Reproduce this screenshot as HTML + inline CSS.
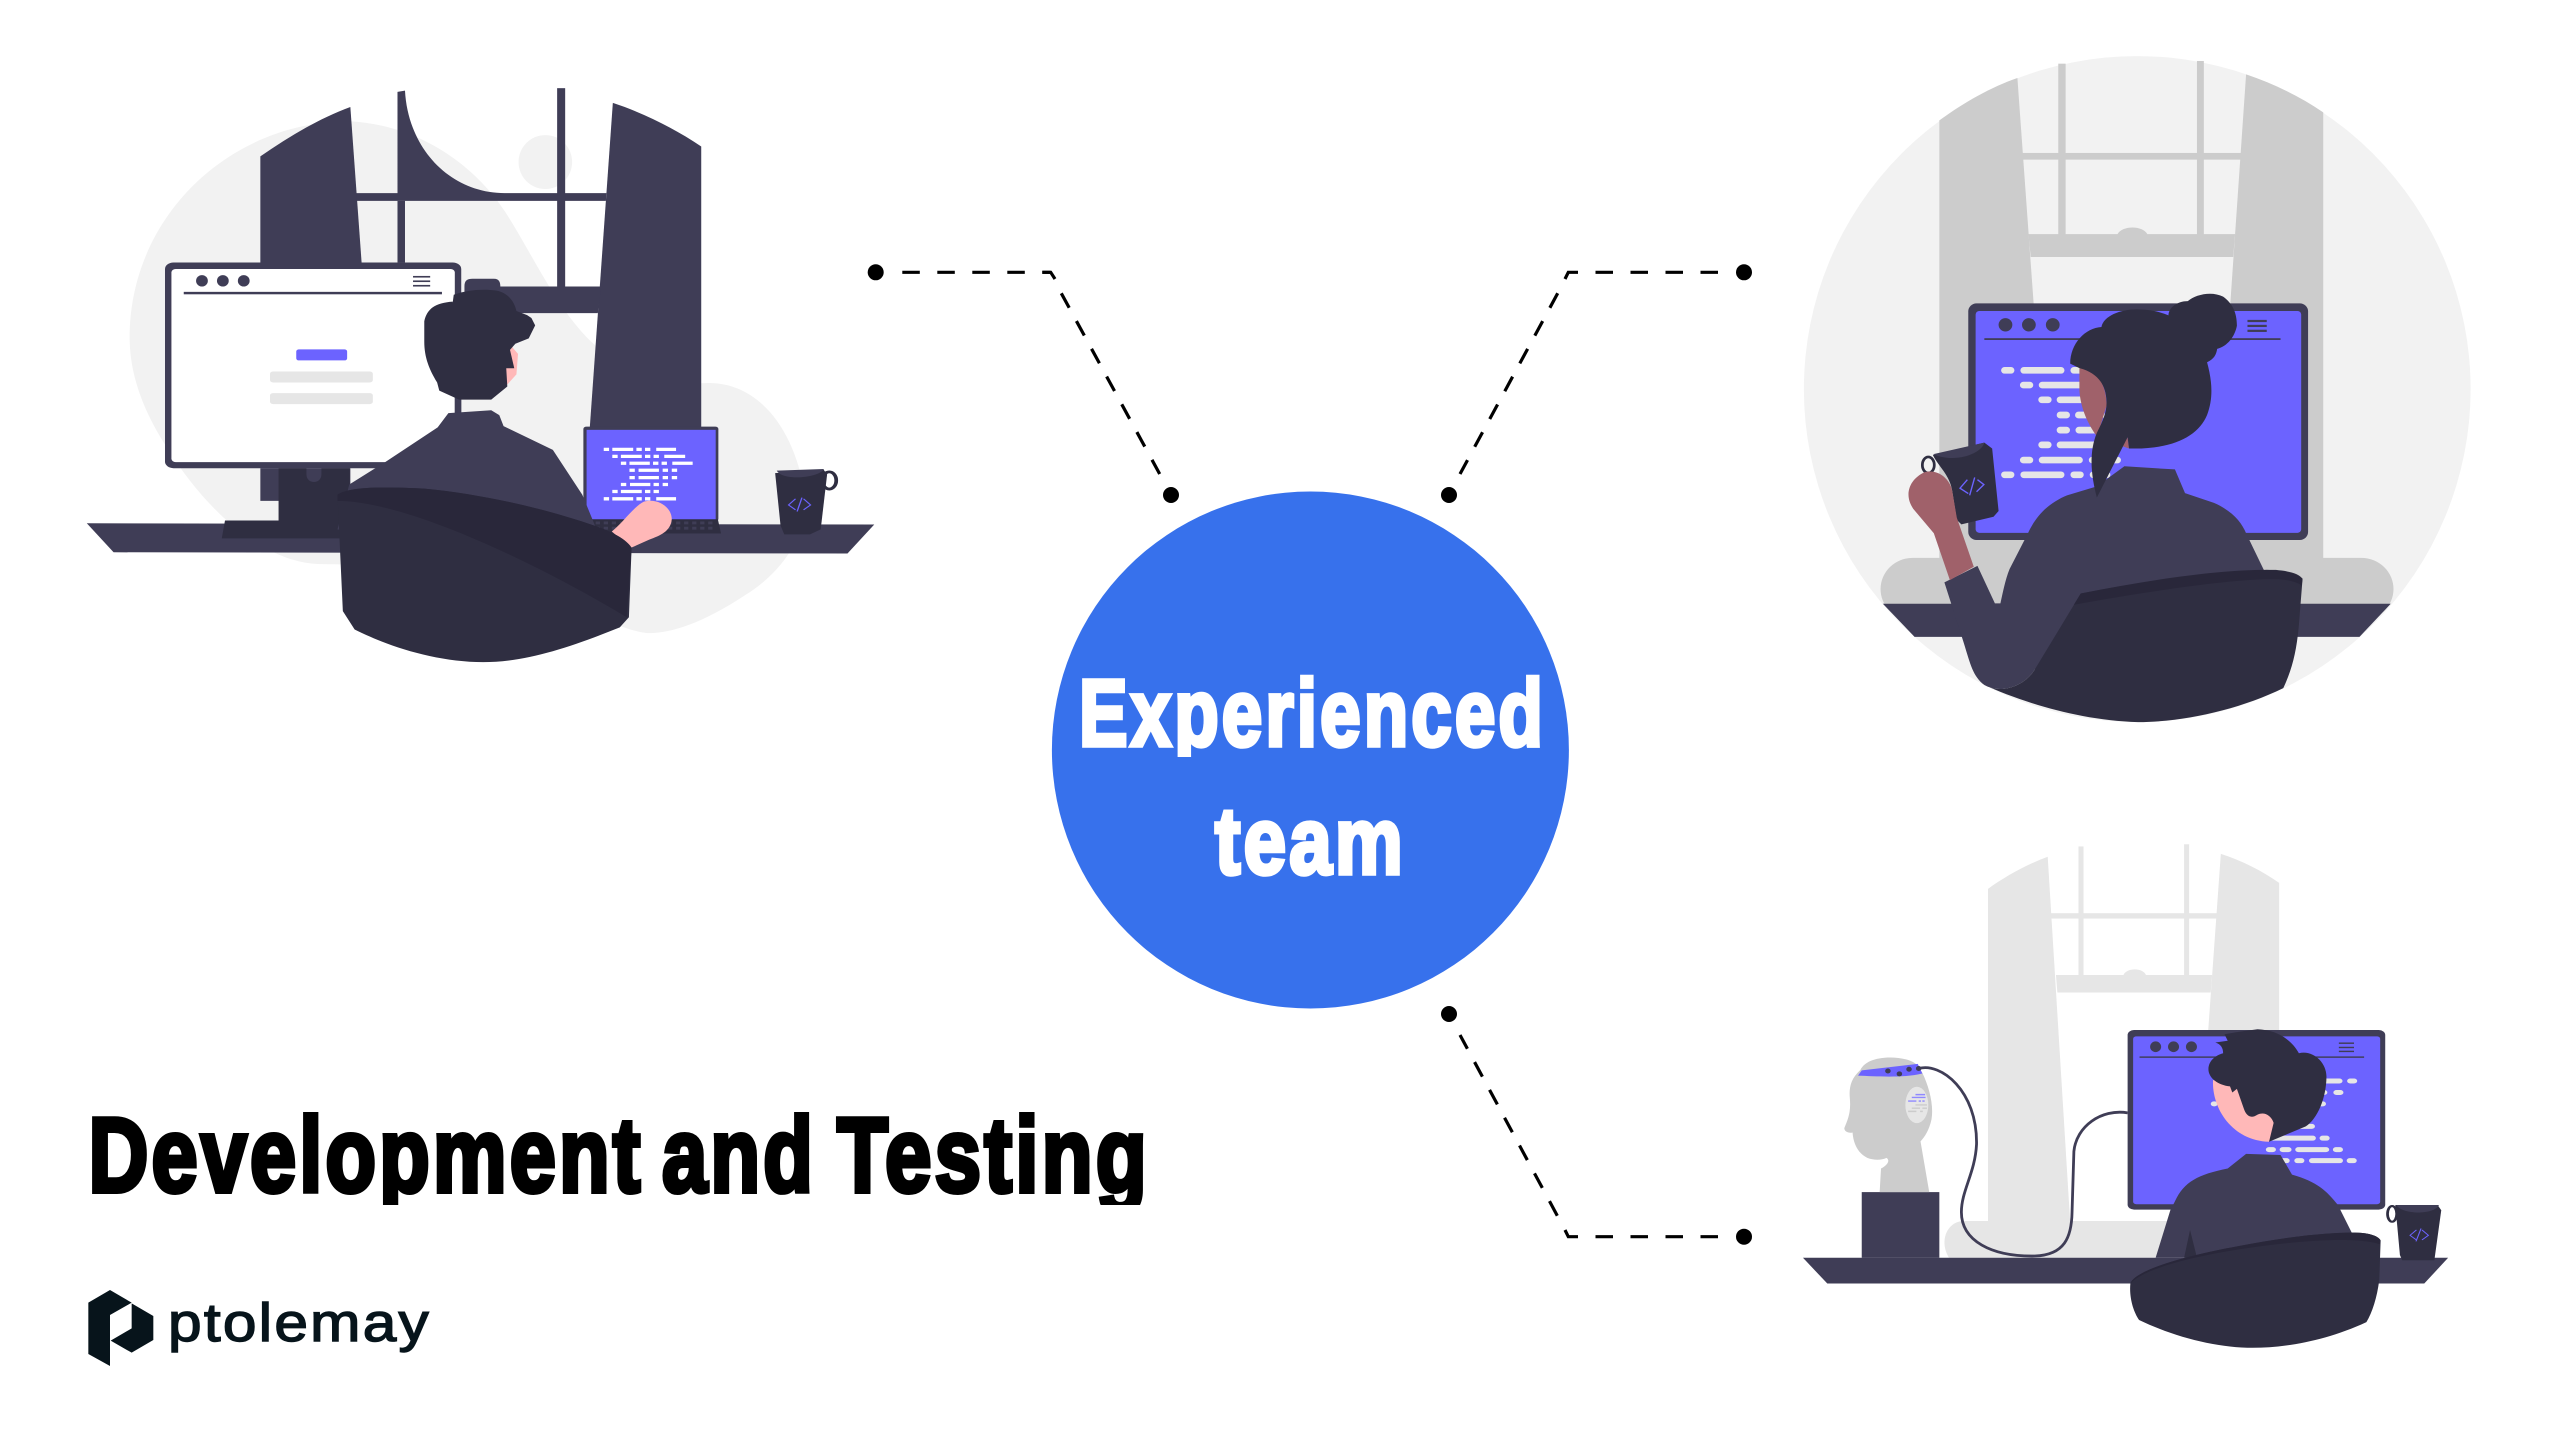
<!DOCTYPE html>
<html lang="en">
<head>
<meta charset="utf-8">
<title>Development and Testing</title>
<style>
html,body{margin:0;padding:0;background:#fff;width:2560px;height:1440px;overflow:hidden}
svg{display:block}
text{font-family:"Liberation Sans",sans-serif}
.imp{font-weight:700;letter-spacing:4px}
.logo{letter-spacing:2px}
</style>
</head>
<body>
<svg xmlns="http://www.w3.org/2000/svg" width="2560" height="1440" viewBox="0 0 2560 1440">
<defs>
  <clipPath id="c1"><rect x="0" y="1080" width="1300" height="125"/></clipPath>
  <clipPath id="c2"><rect x="1060" y="660" width="510" height="97"/></clipPath>
</defs>
<rect width="2560" height="1440" fill="#fff"/>

<!-- Illustration 1 -->
<g transform="translate(60,60) scale(.5357,.4082)">
  <path fill="#f2f2f2" d="M130,680C130,380 320,150 540,150C680,160 780,270 830,370C880,470 930,620 1000,700L1197,792C1300,780 1370,900 1390,1060C1400,1180 1330,1270 1280,1310C1200,1380 1140,1404 1100,1404C1050,1404 900,1300 800,1240L490,1235C380,1235 270,1100 200,950C150,850 130,760 130,680Z"/>
  <ellipse cx="906" cy="250" rx="50" ry="66" fill="#f2f2f2"/>
  <g fill="#3f3d56">
    <path d="M374,236C425,190 480,145 542,115L563,496L374,496Z"/>
    <path d="M1032,105C1090,130 1150,170 1197,212L1197,900L989,900Z"/>
    <path d="M630,78L644,75C650,220 730,326 830,326L1020,326L1019,345L553,345L553,326L630,326Z"/>
    <rect x="630" y="345" width="14" height="151"/>
    <rect x="928" y="69" width="15" height="490"/>
    <path d="M755,555C755,540 760,536 770,536L810,536C820,536 822,545 822,555L1010,555L1004,620L860,620L755,600Z"/>
    <rect x="374" y="1000" width="168" height="80"/>
    <path d="M50,1135L1520,1138L1470,1209L100,1206Z"/>
  </g>
  <rect x="196" y="496" width="553" height="504" rx="16" fill="#3f3d56"/>
  <rect x="208" y="512" width="529" height="473" rx="8" fill="#fff"/>
  <g fill="#3f3d56">
    <ellipse cx="265" cy="541" rx="11" ry="14"/><ellipse cx="304" cy="541" rx="11" ry="14"/><ellipse cx="343" cy="541" rx="11" ry="14"/>
    <rect x="231" y="568" width="482" height="6"/>
    <rect x="659" y="529" width="32" height="4"/><rect x="659" y="540" width="32" height="4"/><rect x="659" y="551" width="32" height="4"/>
  </g>
  <rect x="441" y="709" width="95" height="27" rx="5" fill="#6c63ff"/>
  <rect x="392" y="763" width="192" height="27" rx="6" fill="#e6e6e6"/>
  <rect x="392" y="816" width="192" height="27" rx="6" fill="#e6e6e6"/>
  <path fill="#2f2e41" d="M408,1000L460,1000L460,1015C460,1040 488,1040 488,1015L488,1000L541,1000L541,1128L540,1172L302,1172L308,1128L408,1128Z"/>
  <!-- laptop -->
  <rect x="977" y="898" width="252" height="232" rx="6" fill="#3f3d56"/>
  <rect x="983" y="906" width="241" height="220" fill="#6c63ff"/>
  <path d="M990,1125L1228,1125L1234,1160L985,1160Z" fill="#2f2e41"/>
  <path stroke="#3f3d56" stroke-width="7" stroke-dasharray="8 7" fill="none" d="M1000,1134H1225M1000,1147H1225"/>
  <path stroke="#fff" stroke-width="8" fill="none" d="M1015,954h10m6,0h39m6,0h10m6,0h10m11,0h37M1031,971h10m6,0h39m6,0h10m6,0h10m10,0h39M1047,988h10m6,0h38m6,0h10m6,0h10m10,0h38M1063,1005h10m7,0h38m7,0h10m7,0h10M1063,1023h10m7,0h38m7,0h10m7,0h10M1047,1040h10m7,0h38m6,0h10m7,0h10M1031,1057h10m6,0h39m6,0h10m6,0h10M1015,1075h10m6,0h39m6,0h10m6,0h10m11,0h37"/>
  <!-- mug -->
  <ellipse cx="1436" cy="1030" rx="13" ry="21" fill="none" stroke="#2f2e41" stroke-width="7"/>
  <path d="M1335,1012L1425,1003L1432,1015L1420,1150L1400,1162L1352,1162L1345,1140Z" fill="#2f2e41"/>
  <path d="M1338,1006L1426,1002C1420,1022 1350,1034 1338,1006Z" fill="#3f3d56"/>
  <path d="M1373,1075L1360,1090L1373,1102M1388,1075L1401,1090L1388,1102M1385,1072L1376,1106" fill="none" stroke="#6c63ff" stroke-width="2.5"/>
  <!-- person -->
  <rect x="737" y="825" width="12" height="40" fill="#3f3d56"/>
  <path fill="#3f3d56" d="M725,865L805,858L820,870L828,897L920,955L975,1065L1000,1145L1000,1250L518,1150L540,1040L607,985L705,900Z"/>
  <path fill="#ffb8b8" d="M842,700L855,720L852,770L835,795L825,760Z"/>
  <path fill="#2f2e41" d="M733,595L735,575C760,563 790,560 815,565C835,570 848,590 852,615L872,625L880,632L887,650L875,682L850,695L840,710L848,755L833,755L835,800L805,832L745,832L708,810L704,790C690,760 680,730 680,690L680,640C685,610 700,595 733,592Z"/>
  <path fill="#ffb8b8" d="M1030,1155C1050,1135 1070,1095 1090,1082C1115,1072 1142,1095 1142,1125C1140,1155 1120,1165 1100,1175L1066,1195Z"/>
  <!-- chair -->
  <path fill="#2f2e41" d="M518,1065C540,1045 600,1045 680,1050C800,1065 920,1105 1000,1142C1040,1160 1060,1180 1067,1195L1062,1365L1045,1390C950,1440 870,1475 790,1475C700,1475 610,1435 550,1395L528,1350Z"/>
  <path fill="#29273a" d="M518,1080C650,1080 900,1240 1058,1365L1067,1195C1060,1180 1040,1160 1000,1142C920,1105 800,1065 680,1050C600,1045 540,1045 518,1065Z"/>
</g>

<!-- Illustration 2 -->
<g transform="translate(1780,40) scale(.4592,.4464)">
  <ellipse cx="778" cy="782" rx="726" ry="746" fill="#f2f2f2"/>
  <g fill="#ccc">
    <path d="M347,180C400,140 460,105 517,85L553,600L553,1170L347,1170Z"/>
    <path d="M1015,77C1075,98 1130,125 1183,162L1183,1170L975,1170L980,600Z"/>
    <rect x="606" y="53" width="16" height="385"/>
    <rect x="908" y="47" width="15" height="391"/>
    <rect x="528" y="253" width="476" height="15"/>
    <path d="M541,435L735,435C745,415 790,415 800,435L991,435L987,486L546,486Z"/>
    <rect x="219" y="1160" width="1117" height="140" rx="70"/>
    <rect x="500" y="1100" width="600" height="170"/>
  </g>
  <path d="M224,1263L1330,1263L1262,1337L293,1337Z" fill="#3f3d56"/>
  <rect x="410" y="590" width="740" height="530" rx="18" fill="#3f3d56"/>
  <rect x="426" y="607" width="709" height="497" rx="8" fill="#6c63ff"/>
  <g fill="#3f3d56">
    <circle cx="491" cy="638" r="15"/><circle cx="542" cy="638" r="15"/><circle cx="594" cy="638" r="15"/>
    <rect x="445" y="668" width="645" height="4"/>
    <rect x="1018" y="627" width="42" height="5"/><rect x="1018" y="638" width="42" height="5"/><rect x="1018" y="649" width="42" height="5"/>
  </g>
  <path stroke="#e6e6e6" stroke-width="15" stroke-linecap="round" fill="none" d="M489,740h14m28,0h81m28,0h14M530,773h14m27,0h81M570,806h14m26,0h81M610,840h14m26,0h50M610,874h14m27,0h50M570,907h14m26,0h80M530,941h14m27,0h81m28,0h55M489,974h14m28,0h81m28,0h14m28,0h30"/>
  <!-- person -->
  <path fill="#a0616a" d="M652,735C700,735 712,790 711,820L690,890L760,915L757,890L700,900C665,860 652,810 652,780Z"/>
  <path fill="#3f3d56" d="M750,955L860,962L882,1015L945,1037C985,1055 1005,1080 1015,1105L1055,1190L1060,1400L555,1410C530,1450 480,1465 445,1445C420,1425 415,1400 400,1350L358,1215L430,1178L468,1262L480,1262C485,1240 490,1210 500,1185L540,1105C560,1060 590,1035 625,1020L690,1000Z"/>
  <path fill="#2f2e41" d="M632,725C632,680 665,645 700,643C705,615 750,600 790,604C815,605 835,612 846,617C846,600 865,585 888,585C905,570 940,562 965,575C985,590 995,610 995,640C990,665 975,685 952,692C950,705 945,715 930,722C940,760 945,800 930,840C910,890 850,918 760,915L757,890L690,1025C680,985 670,930 690,880C705,850 712,830 711,810C710,770 690,745 652,735Z"/>
  <ellipse cx="323" cy="952" rx="13" ry="18" fill="none" stroke="#2f2e41" stroke-width="6"/>
  <path fill="#2f2e41" d="M333,930L445,902L462,915L476,1055L465,1068L395,1085L385,1075L375,1010C370,975 345,955 333,930Z"/>
  <path fill="#3f3d56" d="M333,928L445,902C440,925 385,950 333,928Z"/>
  <path d="M408,985L392,1004L410,1016M430,985L444,996L428,1012M424,980L413,1020" fill="none" stroke="#6c63ff" stroke-width="3"/>
  <path fill="#a0616a" d="M370,1210L335,1105L290,1050C270,1020 280,985 315,968C350,960 372,990 375,1010L385,1070L422,1180Z"/>
  <path fill="#2f2e41" d="M655,1240C800,1210 1000,1185 1080,1187C1110,1190 1130,1195 1138,1207L1130,1310C1125,1370 1115,1410 1096,1452C1000,1500 880,1528 780,1528C650,1525 520,1480 445,1445C480,1465 530,1450 555,1410Z"/>
  <path fill="#29273a" d="M640,1265C800,1235 1000,1205 1080,1208C1100,1208 1125,1213 1136,1222L1138,1207C1125,1195 1100,1188 1060,1187C950,1187 800,1210 655,1240Z"/>
</g>

<!-- Illustration 3 -->
<g transform="translate(1780,830) scale(.4592,.3571)">
  <g fill="#e6e6e6">
    <path d="M453,165C490,130 540,95 583,75L632,1100L453,1100Z"/>
    <path d="M960,67C1005,85 1050,115 1087,148L1087,570L932,570Z"/>
    <rect x="650" y="46" width="11" height="362"/>
    <rect x="880" y="40" width="11" height="368"/>
    <rect x="590" y="233" width="362" height="15"/>
    <path d="M601,406L748,406C755,385 790,385 797,406L941,406L938,455L604,455Z"/>
    <path d="M400,1095L860,1095L860,1198L368,1198C345,1150 365,1095 400,1095Z"/>
  </g>
  <path d="M50,1198L1455,1198L1403,1270L103,1270Z" fill="#3f3d56"/>
  <rect x="178" y="1014" width="169" height="184" fill="#3f3d56"/>
  <!-- bust -->
  <path fill="#ccc" d="M175,672C185,645 215,637 240,637C265,637 290,645 300,660L310,680C325,720 335,770 330,810C325,840 315,860 306,872L325,1014L217,1014L220,948C235,938 240,925 232,918C220,925 205,925 190,918C170,905 160,880 158,847C150,850 140,845 140,835C148,810 155,790 152,750C150,720 155,695 175,672Z"/>
  <path fill="#6c63ff" d="M170,688L178,673L300,655L310,682C270,695 210,690 170,688Z"/>
  <g fill="#3f3d56"><ellipse cx="235" cy="675" rx="6" ry="7"/><ellipse cx="260" cy="683" rx="6" ry="7"/><ellipse cx="281" cy="670" rx="6" ry="7"/><ellipse cx="302" cy="668" rx="6" ry="7"/></g>
  <ellipse cx="298" cy="770" rx="25" ry="51" fill="#e6e6e6"/>
  <path d="M295,741h21M287,749h30M279,759h18m5,0h5m3,0h5" stroke="#8f89ff" stroke-width="4" fill="none"/>
  <path d="M295,770h25M287,779h18m5,0h10M279,788h18m8,0h6" stroke="#ccc" stroke-width="4" fill="none"/>
  <path d="M302,668C350,650 430,730 428,880C425,960 395,1010 395,1070C395,1150 460,1195 555,1193C620,1190 635,1140 636,1070L640,900C645,830 700,780 757,792" fill="none" stroke="#3f3d56" stroke-width="2.8" vector-effect="non-scaling-stroke"/>
  <!-- monitor -->
  <rect x="757" y="560" width="561" height="503" rx="14" fill="#3f3d56"/>
  <rect x="769" y="578" width="538" height="470" rx="7" fill="#6c63ff"/>
  <g fill="#3f3d56">
    <ellipse cx="818" cy="607" rx="12" ry="15"/><ellipse cx="857" cy="607" rx="12" ry="15"/><ellipse cx="896" cy="607" rx="12" ry="15"/>
    <rect x="783" y="634" width="489" height="4"/>
    <rect x="1217" y="595" width="33" height="4"/><rect x="1217" y="607" width="33" height="4"/><rect x="1217" y="618" width="33" height="4"/>
  </g>
  <path stroke="#e6e6e6" stroke-width="14" stroke-linecap="round" fill="none" d="M1130,703h88m24,0h8M1100,735h85m27,0h8M1100,767h82M945,767h1M1100,830h58M1070,863h90m22,0h8M1065,895h8m22,0h12m22,0h60m22,0h8M1095,926h8m24,0h8m24,0h60m22,0h8"/>
  <!-- person -->
  <path fill="#ffb8b8" d="M943,700C940,780 985,870 1065,873L1085,800L1000,720Z"/>
  <path fill="#3f3d56" d="M1015,907L1090,910L1115,965C1170,985 1190,1010 1215,1050L1246,1130L1246,1198L818,1198L850,1065L860,1040C880,985 910,965 975,948Z"/>
  <path fill="#2f2e41" d="M893,1120L880,1198L908,1198Z"/>
  <path fill="#2f2e41" d="M948,595L975,590L968,572L1000,565L1040,558C1085,560 1115,590 1130,625C1160,615 1190,650 1190,690C1190,750 1170,810 1145,830L1065,873L1075,820C1070,800 1055,788 1040,797C1025,810 1015,800 1010,780L995,725L985,735L980,718C955,715 933,695 933,670C933,645 950,630 965,625C965,610 960,600 948,595Z"/>
  <path fill="#2f2e41" d="M763,1270C770,1240 850,1200 1000,1165C1100,1140 1200,1125 1260,1128C1290,1130 1305,1140 1308,1150L1305,1260C1300,1310 1290,1350 1277,1378C1190,1430 1100,1450 1030,1450C950,1450 860,1420 782,1372C770,1350 760,1310 763,1270Z"/>
  <path fill="#29273a" d="M763,1270C790,1230 900,1190 1050,1165C1150,1148 1260,1140 1306,1160L1308,1150C1305,1140 1290,1130 1260,1128C1200,1125 1100,1140 1000,1165C850,1200 770,1240 763,1270Z"/>
  <!-- mug -->
  <ellipse cx="1333" cy="1075" rx="10" ry="22" fill="none" stroke="#2f2e41" stroke-width="6"/>
  <path fill="#2f2e41" d="M1340,1050L1432,1050L1440,1065L1425,1205L1355,1205L1350,1190Z"/>
  <path fill="#3f3d56" d="M1342,1050L1435,1050C1425,1078 1355,1078 1342,1050Z"/>
  <path d="M1386,1120L1372,1135L1386,1148M1398,1120L1412,1135L1398,1148M1396,1116L1385,1152" fill="none" stroke="#6c63ff" stroke-width="2.5"/>
</g>

<!-- Connectors -->
<g fill="none" stroke="#000" stroke-width="3.2">
  <path stroke-dasharray="17.5 17.5" d="M902.3,272.3H1050.7"/>
  <path d="M1042.3,272.3H1050.7L1055,279"/>
  <path stroke-dasharray="16.5 15.1" d="M1061.3,293.3L1159.7,474"/>
  <path stroke-dasharray="17.5 17.5" d="M1718,272.3H1577"/>
  <path d="M1577,272.3H1568.3L1565,279"/>
  <path stroke-dasharray="16.5 15.1" d="M1557.7,293.3L1460,474"/>
  <path stroke-dasharray="17.5 17.5" d="M1718,1236.7H1577"/>
  <path d="M1577,1236.7H1568.3L1565,1230"/>
  <path stroke-dasharray="16.5 15.1" d="M1557.3,1215.7L1460,1035"/>
</g>
<g fill="#000">
  <circle cx="875.7" cy="272.3" r="8"/><circle cx="1171" cy="495" r="8"/>
  <circle cx="1744" cy="272.3" r="8"/><circle cx="1449" cy="495" r="8"/>
  <circle cx="1449" cy="1014" r="8"/><circle cx="1744" cy="1236.7" r="8"/>
</g>

<!-- Central circle -->
<circle cx="1310.4" cy="750" r="258.5" fill="#3771ec"/>
<g clip-path="url(#c2)">
  <text class="imp" fill="#fff" stroke="#fff" stroke-width="4.5" font-size="95" x="1079" y="745.7" textLength="467" lengthAdjust="spacingAndGlyphs">Experienced</text>
</g>
<text class="imp" fill="#fff" stroke="#fff" stroke-width="4.5" font-size="95" x="1215" y="873.5" textLength="191" lengthAdjust="spacingAndGlyphs">team</text>

<!-- Heading -->
<g clip-path="url(#c1)">
  <g fill="#000" stroke="#000" stroke-width="5" class="imp" font-size="106">
    <text x="88.5" y="1191.5" textLength="555" lengthAdjust="spacingAndGlyphs">Development</text>
    <text x="662" y="1191.5" textLength="154" lengthAdjust="spacingAndGlyphs">and</text>
    <text x="837" y="1191.5" textLength="313" lengthAdjust="spacingAndGlyphs">Testing</text>
  </g>
</g>

<!-- Logo -->
<g transform="translate(80,1280) scale(.3333)" fill="#07141b">
  <path d="M25,68L90,30L155,68L90,105L90,258L25,222Z"/>
  <path d="M155,70L220,108L220,180L155,218L92,182L155,145Z"/>
</g>
<text class="logo" x="168" y="1341" font-size="54" fill="#07141b" stroke="#07141b" stroke-width="1.4" textLength="263" lengthAdjust="spacingAndGlyphs">ptolemay</text>
</svg>
</body>
</html>
